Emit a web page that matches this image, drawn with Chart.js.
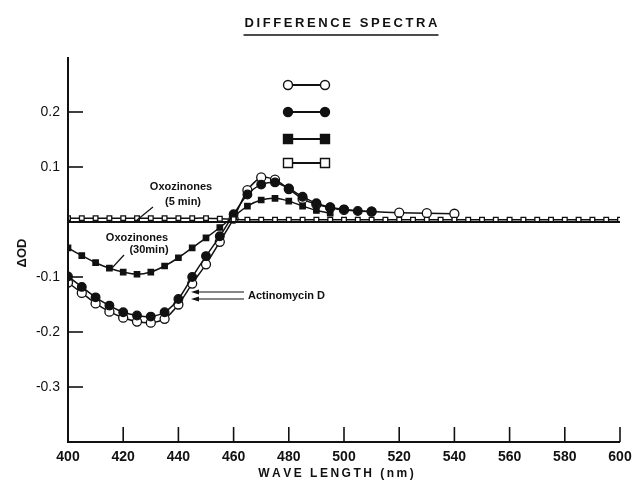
<!DOCTYPE html>
<html><head><meta charset="utf-8">
<script src="https://cdn.jsdelivr.net/npm/chart.js@4/dist/chart.umd.min.js"></script>
<style>html,body{margin:0;padding:0;background:#fff;}#wrap{width:640px;height:483px;}</style>
</head><body><div id="wrap"><canvas id="c" width="640" height="483"></canvas></div>
<script>
// ---- data ----
const title = "DIFFERENCE SPECTRA";
const xTitle = "WAVE LENGTH (nm)";
const yTitle = "\u0394OD";
const xTicks = [400,420,440,460,480,500,520,540,560,580,600];
const yTickLabels = [0.2,0.1,-0.1,-0.2,-0.3];

// Actinomycin D (open circles)
const openCircleX = [400,405,410,415,420,425,430,435,440,445,450,455,460,465,470,475,480,485,490,495,500,510,520,530,540];
const openCircleY = [-0.110,-0.129,-0.148,-0.163,-0.174,-0.181,-0.183,-0.176,-0.150,-0.112,-0.077,-0.036,0.006,0.058,0.081,0.077,0.060,0.042,0.032,0.026,0.022,0.019,0.017,0.016,0.015];
// Actinomycin D (filled circles)
const filledCircleX = [400,405,410,415,420,425,430,435,440,445,450,455,460,465,470,475,480,485,490,495,500,505,510];
const filledCircleY = [-0.099,-0.118,-0.137,-0.152,-0.164,-0.170,-0.172,-0.164,-0.140,-0.100,-0.062,-0.026,0.014,0.050,0.068,0.072,0.061,0.046,0.034,0.027,0.023,0.020,0.019];
// Oxozinones 30 min (filled squares)
const filledSquareX = [400,405,410,415,420,425,430,435,440,445,450,455,460,465,470,475,480,485,490,495];
const filledSquareY = [-0.047,-0.061,-0.074,-0.084,-0.091,-0.095,-0.091,-0.080,-0.065,-0.047,-0.029,-0.010,0.010,0.029,0.040,0.043,0.038,0.029,0.021,0.016];
// Oxozinones 5 min (open squares)
const openSquareX = [400,405,410,415,420,425,430,435,440,445,450,455,460,465,470,475,480,485,490,495,500,505,510,515,520,525,530,535,540,545,550,555,560,565,570,575,580,585,590,595,600];
const openSquareY = [0.007,0.007,0.007,0.007,0.007,0.007,0.007,0.007,0.007,0.007,0.007,0.006,0.005,0.004,0.004,0.004,0.004,0.004,0.004,0.004,0.004,0.004,0.004,0.004,0.004,0.004,0.004,0.004,0.004,0.004,0.004,0.004,0.004,0.004,0.004,0.004,0.004,0.004,0.004,0.004,0.004];

const toPts = (xs, ys) => xs.map((x,i)=>({x:x, y:ys[i]}));
const INK = '#111';

function ds(label, xs, ys, style, filled, r){
  return {label, data: toPts(xs,ys), borderColor: INK, borderWidth: 1.5,
    pointStyle: style, pointRadius: r, pointBorderWidth: 1.3,
    pointBackgroundColor: filled?INK:'#fff', pointBorderColor: INK,
    tension: 0.25, fill:false};
}

const deco = {
  id:'deco',
  afterDraw(chart){
    const ctx = chart.ctx, xs = chart.scales.x, ys = chart.scales.y;
    const L = xs.left, R = xs.right, T = ys.top, B = ys.bottom;
    ctx.save();
    ctx.strokeStyle = INK; ctx.fillStyle = INK;
    // axes
    ctx.lineWidth = 2;
    ctx.beginPath(); ctx.moveTo(L, T); ctx.lineTo(L, B); ctx.lineTo(R, B); ctx.stroke();
    // inward ticks
    ctx.lineWidth = 1.6;
    xTicks.forEach(v=>{ if(v===400) return; const px = xs.getPixelForValue(v); ctx.beginPath(); ctx.moveTo(px,B); ctx.lineTo(px,B-15); ctx.stroke(); });
    yTickLabels.forEach(v=>{ const py = ys.getPixelForValue(v); ctx.beginPath(); ctx.moveTo(L,py); ctx.lineTo(L+15,py); ctx.stroke(); });
    // zero line
    ctx.lineWidth = 2;
    const z = ys.getPixelForValue(0);
    ctx.beginPath(); ctx.moveTo(L,z); ctx.lineTo(R,z); ctx.stroke();
    // title, letter-spaced + underline
    function spaced(text, cx, cy, font, sp){
      ctx.font = font; ctx.textBaseline='middle'; ctx.textAlign='left';
      let w = 0; for(const ch of text) w += ctx.measureText(ch).width + sp; w -= sp;
      let x = cx - w/2;
      for(const ch of text){ ctx.fillText(ch, x, cy); x += ctx.measureText(ch).width + sp; }
      return w;
    }
    const tw = spaced(title, 341, 23, 'bold 13px "Liberation Sans", Arial, sans-serif', 2.6);
    ctx.lineWidth = 1.5;
    ctx.beginPath(); ctx.moveTo(341-tw/2-1, 35); ctx.lineTo(341+tw/2+1, 35); ctx.stroke();
    // x title
    spaced(xTitle, 336, 474, 'bold 12px "Liberation Sans", Arial, sans-serif', 2.5);
    // y title rotated
    ctx.save(); ctx.translate(22, 253); ctx.rotate(-Math.PI/2);
    ctx.font = 'bold 13px "Liberation Sans", Arial, sans-serif'; ctx.textAlign='center'; ctx.textBaseline='middle';
    ctx.fillText(yTitle, 0, 0); ctx.restore();
    // annotations
    ctx.font = 'bold 11px "Liberation Sans", Arial, sans-serif'; ctx.textAlign='center'; ctx.textBaseline='middle';
    ctx.fillText('Oxozinones', 181, 187);
    ctx.fillText('(5 min)', 183, 202);
    ctx.fillText('Oxozinones', 137, 238);
    ctx.fillText('(30min)', 149, 250);
    ctx.textAlign='left';
    ctx.fillText('Actinomycin D', 248, 296);
    ctx.lineWidth = 1.2;
    ctx.beginPath(); ctx.moveTo(153,207); ctx.lineTo(137,220); ctx.stroke();
    ctx.beginPath(); ctx.moveTo(124,255); ctx.lineTo(112,268); ctx.stroke();
    // arrows to Actinomycin curves
    [292,299].forEach(yy=>{
      ctx.beginPath(); ctx.moveTo(244,yy); ctx.lineTo(194,yy); ctx.stroke();
      ctx.beginPath(); ctx.moveTo(191,yy); ctx.lineTo(199,yy-2.5); ctx.lineTo(199,yy+2.5); ctx.closePath(); ctx.fill();
    });
    // legend symbols (no text)
    const leg = [[85,'circle',false],[112,'circle',true],[139,'rect',true],[163,'rect',false]];
    leg.forEach(([yy,st,f])=>{
      ctx.lineWidth = 1.8; ctx.strokeStyle=INK;
      ctx.beginPath(); ctx.moveTo(288,yy); ctx.lineTo(325,yy); ctx.stroke();
      [288,325].forEach(xx=>{
        ctx.lineWidth = 1.4;
        ctx.fillStyle = f?INK:'#fff';
        ctx.beginPath();
        if(st==='circle'){ ctx.arc(xx,yy,4.5,0,Math.PI*2); }
        else { ctx.rect(xx-4.5,yy-4.5,9,9); }
        ctx.fill(); ctx.stroke();
      });
      ctx.fillStyle = INK;
    });
    ctx.restore();
  }
};

new Chart(document.getElementById('c'), {
  type:'line',
  data:{ datasets:[
    ds('Oxozinones (5 min)', openSquareX, openSquareY, 'rect', false, 3.3),
    ds('Oxozinones (30min)', filledSquareX, filledSquareY, 'rect', true, 3.8),
    ds('Actinomycin D', filledCircleX, filledCircleY, 'circle', true, 4.3),
    ds('Actinomycin D (open)', openCircleX, openCircleY, 'circle', false, 4.5)
  ]},
  options:{
    responsive:false, animation:false, devicePixelRatio:1,
    layout:{ padding:{ left:0, right:20, top:57, bottom:0 } },
    plugins:{ legend:{display:false}, title:{display:false}, tooltip:{enabled:false} },
    scales:{
      x:{ type:'linear', min:400, max:600,
        grid:{ display:false, drawTicks:false }, border:{ display:false },
        afterFit(s){ s.height = 41; },
        afterBuildTicks(s){ s.ticks = xTicks.map(v=>({value:v})); },
        ticks:{ padding:7, color:INK, font:{ size:14, weight:'bold', family:'"Liberation Sans", Arial, sans-serif' }, maxRotation:0, autoSkip:false }
      },
      y:{ type:'linear', min:-0.4, max:0.3,
        grid:{ display:false, drawTicks:false }, border:{ display:false },
        afterFit(s){ s.width = 68; },
        afterBuildTicks(s){ s.ticks = yTickLabels.map(v=>({value:v})); },
        ticks:{ padding:8, color:INK, font:{ size:14, family:'"Liberation Sans", Arial, sans-serif' },
          callback:(v)=> (Math.round(v*10)/10).toFixed(1) }
      }
    }
  },
  plugins:[deco]
});
</script></body></html>
